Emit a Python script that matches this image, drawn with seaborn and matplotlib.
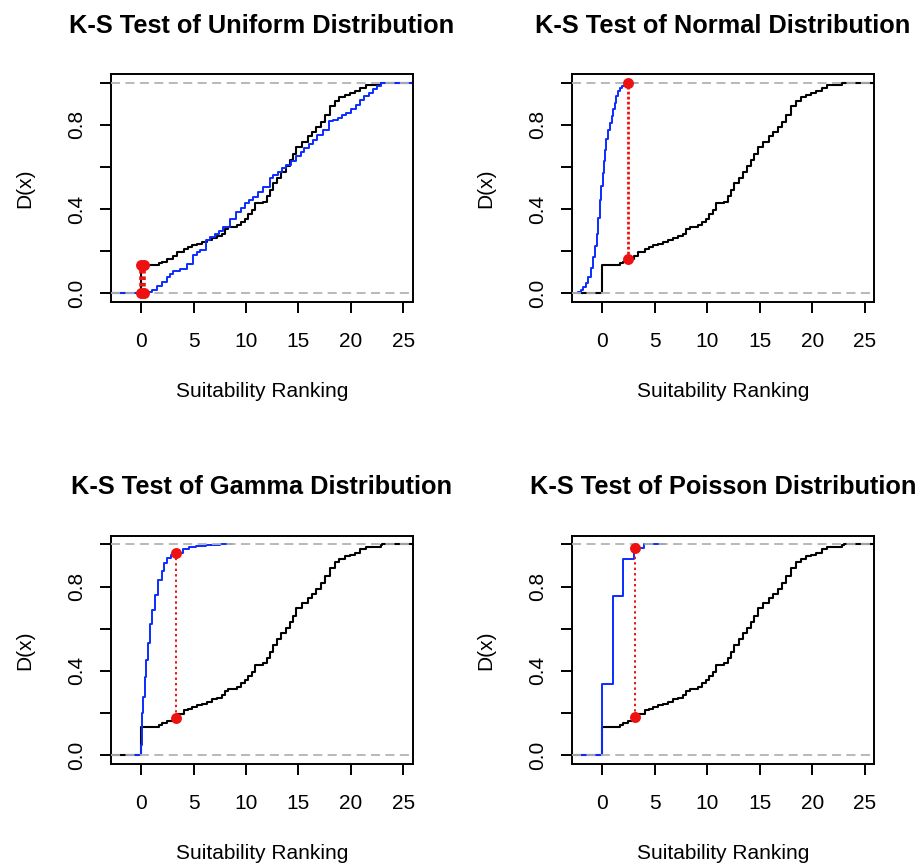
import numpy as np
import pandas as pd
import matplotlib
matplotlib.use("Agg")
import matplotlib.pyplot as plt
import seaborn as sns

# ---------------- data ----------------
titles = ["K-S Test of Uniform Distribution", "K-S Test of Normal Distribution",
          "K-S Test of Gamma Distribution", "K-S Test of Poisson Distribution"]
x_label = "Suitability Ranking"
y_label = "D(x)"
x_ticks = [0, 5, 10, 15, 20, 25]
y_ticks = [0.0, 0.2, 0.4, 0.6, 0.8, 1.0]
y_tick_labels = ["0.0", "", "0.4", "", "0.8", ""]

# empirical CDF of the observed suitability rankings (black)
obs_x = [0.0, 1.7, 2.0, 2.47, 3.0, 3.42, 4.05, 4.5, 4.84, 5.3, 5.79, 6.3, 6.74, 7.2,
         7.69, 8.0, 8.32, 9.1, 9.5, 9.9, 10.2, 10.55, 10.85, 11.64, 12.0, 12.3, 12.59,
         13.0, 13.38, 13.8, 14.17, 14.5, 14.8, 15.3, 15.91, 16.3, 16.7, 17.1, 17.5,
         17.97, 18.44, 18.9, 19.4, 19.9, 20.34, 20.9, 21.44, 22.87, 23.0]
obs_y = [0.135, 0.142, 0.150, 0.164, 0.178, 0.196, 0.212, 0.218, 0.228, 0.236, 0.244,
         0.252, 0.264, 0.272, 0.284, 0.305, 0.316, 0.323, 0.340, 0.355, 0.375, 0.395,
         0.427, 0.435, 0.462, 0.490, 0.522, 0.550, 0.578, 0.605, 0.634, 0.662, 0.697,
         0.720, 0.745, 0.765, 0.790, 0.815, 0.849, 0.890, 0.915, 0.932, 0.944, 0.952,
         0.960, 0.976, 0.990, 0.997, 1.0]

# ECDFs of the reference samples (blue)
unif_x = [0.1, 0.5, 1.0, 1.5, 1.96, 2.44, 2.8, 3.07, 3.7, 4.34, 4.97, 5.3, 5.6, 6.23,
          6.6, 7.03, 7.4, 7.82, 8.45, 9.08, 9.5, 9.87, 10.3, 10.66, 11.1, 11.61, 12.25,
          12.6, 13.04, 13.4, 13.83, 14.3, 14.78, 15.2, 15.57, 16.0, 16.36, 16.8, 17.31,
          17.94, 18.3, 18.73, 19.1, 19.53, 20.0, 20.47, 20.9, 21.27, 21.7, 22.06, 22.5,
          22.85]
unif_y = [0.004, 0.008, 0.016, 0.037, 0.053, 0.076, 0.092, 0.104, 0.116, 0.140, 0.180,
          0.195, 0.207, 0.252, 0.268, 0.283, 0.298, 0.315, 0.355, 0.387, 0.405, 0.427,
          0.445, 0.459, 0.482, 0.506, 0.546, 0.560, 0.578, 0.595, 0.610, 0.630, 0.650,
          0.670, 0.690, 0.710, 0.729, 0.752, 0.777, 0.817, 0.825, 0.833, 0.845, 0.857,
          0.876, 0.896, 0.916, 0.936, 0.952, 0.968, 0.984, 1.0]

norm_x = [-2.6, -2.28, -2.0, -1.8, -1.55, -1.33, -1.1, -0.85, -0.7, -0.54, -0.38, -0.22,
          -0.1, 0.03, 0.15, 0.25, 0.4, 0.57, 0.72, 0.89, 1.05, 1.2, 1.35, 1.52, 1.7,
          1.93, 2.2, 2.47]
norm_y = [0.003, 0.008, 0.018, 0.029, 0.050, 0.076, 0.120, 0.172, 0.225, 0.283, 0.360,
          0.443, 0.510, 0.570, 0.630, 0.680, 0.735, 0.777, 0.810, 0.840, 0.875, 0.904,
          0.935, 0.960, 0.974, 0.984, 0.993, 1.0]

gamma_x = [0.02, 0.05, 0.1, 0.22, 0.35, 0.47, 0.7, 0.85, 1.01, 1.33, 1.65, 1.96, 2.2,
           2.44, 2.9, 3.32, 4.0, 4.6, 5.28, 6.2, 7.5]
gamma_y = [0.05, 0.14, 0.20, 0.278, 0.37, 0.452, 0.532, 0.62, 0.69, 0.762, 0.833, 0.873,
           0.91, 0.937, 0.952, 0.960, 0.979, 0.986, 0.992, 0.996, 1.0]

pois_x = [0, 1, 2, 3, 4]
pois_y = [0.338, 0.756, 0.932, 0.984, 1.0]

# location and end points of the maximum distance D (red)
d_x = [[0.0, 0.25], [2.47], [3.32], [3.15]]
d_hi = [0.135, 1.0, 0.96, 0.984]
d_lo = [0.0, 0.164, 0.175, 0.18]

blue_x = [unif_x, norm_x, gamma_x, pois_x]
blue_y = [unif_y, norm_y, gamma_y, pois_y]

# ---------------- style ----------------
sns.set_style("ticks")
plt.rcParams["font.family"] = ["Liberation Sans", "DejaVu Sans"]
plt.rcParams["axes.linewidth"] = 1.4
for key in ("text.color", "axes.labelcolor", "xtick.color", "ytick.color",
            "xtick.labelcolor", "ytick.labelcolor", "axes.edgecolor"):
    plt.rcParams[key] = "black"

BLUE = "#0a2cff"
RED = "#ee1111"
GRAY = "#b3b3b3"


def step_frame(kx, ky):
    kx = np.asarray(kx, float)
    ky = np.asarray(ky, float)
    dr = max(0.08 * (kx.max() - kx.min()), np.median(np.diff(kx)))
    xs = np.concatenate([[kx[0] - 2 * dr], kx, [kx[-1] + 2 * dr]])
    ys = np.concatenate([[0.0], ky, [ky[-1]]])
    return pd.DataFrame({"x": xs, "y": ys})


obs_df = step_frame(obs_x, obs_y)
rx = (min(obs_x), max(obs_x))
dr_obs = max(0.08 * (rx[1] - rx[0]), np.median(np.diff(obs_x)))
xl0 = (rx[0] - dr_obs, rx[1] + dr_obs)
span = xl0[1] - xl0[0]
xlim = (xl0[0] - 0.04 * span, xl0[1] + 0.04 * span)
ylim = (-0.04, 1.04)

fig = plt.figure(figsize=(9.22, 8.66), dpi=100)
W, H = 922, 866
lefts = [110.5, 571.7]
tops = [74.3, 536.0]
aw, ah = 302.5, 227.5

line_specs = [dict(lw=2.6, ls=(0, (1, 0.8))), dict(lw=2.0, ls=(0, (1, 0.8))),
              dict(lw=1.4, ls=(0, (1.2, 1.6))), dict(lw=1.4, ls=(0, (1.2, 1.6)))]

for i in range(4):
    r, c = divmod(i, 2)
    ax = fig.add_axes([lefts[c] / W, 1 - (tops[r] + ah) / H, aw / W, ah / H])

    sns.lineplot(data=obs_df, x="x", y="y", drawstyle="steps-post", color="black",
                 lw=1.5, estimator=None, sort=False, ax=ax, zorder=2)
    bdf = step_frame(blue_x[i], blue_y[i])
    sns.lineplot(data=bdf, x="x", y="y", drawstyle="steps-post", color=BLUE,
                 lw=1.4, estimator=None, sort=False, ax=ax, zorder=2)

    for yv in (0, 1):
        ax.axhline(yv, color=GRAY, lw=1.3, ls=(0, (5, 3)), zorder=3)

    for xv in d_x[i]:
        ax.plot([xv, xv], [d_lo[i], d_hi[i]], color=RED, zorder=4,
                lw=line_specs[i]["lw"], ls=line_specs[i]["ls"])
    pts = pd.DataFrame({"x": [xv for xv in d_x[i] for _ in (0, 1)],
                        "y": [yv for _ in d_x[i] for yv in (d_hi[i], d_lo[i])]})
    sns.scatterplot(data=pts, x="x", y="y", color=RED, s=62, edgecolor=RED,
                    linewidth=0, ax=ax, zorder=5)

    ax.set_xlim(*xlim)
    ax.set_ylim(*ylim)
    ax.set_xticks(x_ticks)
    ax.set_xticklabels([str(t) for t in x_ticks], fontsize=15, color="black")
    ax.set_yticks(y_ticks)
    ax.set_yticklabels(y_tick_labels, fontsize=15, rotation=90, va="center",
                       color="black")
    ax.tick_params(axis="both", direction="out", length=8, width=1.4, color="black")
    ax.tick_params(axis="x", pad=14)
    ax.tick_params(axis="y", pad=9.5)
    for sp in ax.spines.values():
        sp.set_visible(True)
        sp.set_linewidth(1.4)
        sp.set_color("black")
    ax.set_xlabel(x_label, fontsize=15, labelpad=22, color="black")
    ax.set_ylabel(y_label, fontsize=15, labelpad=24, color="black")
    ax.set_title(titles[i], fontsize=18.3, fontweight="bold", pad=30, color="black")

fig.savefig("out.png", dpi=100, facecolor="white")
